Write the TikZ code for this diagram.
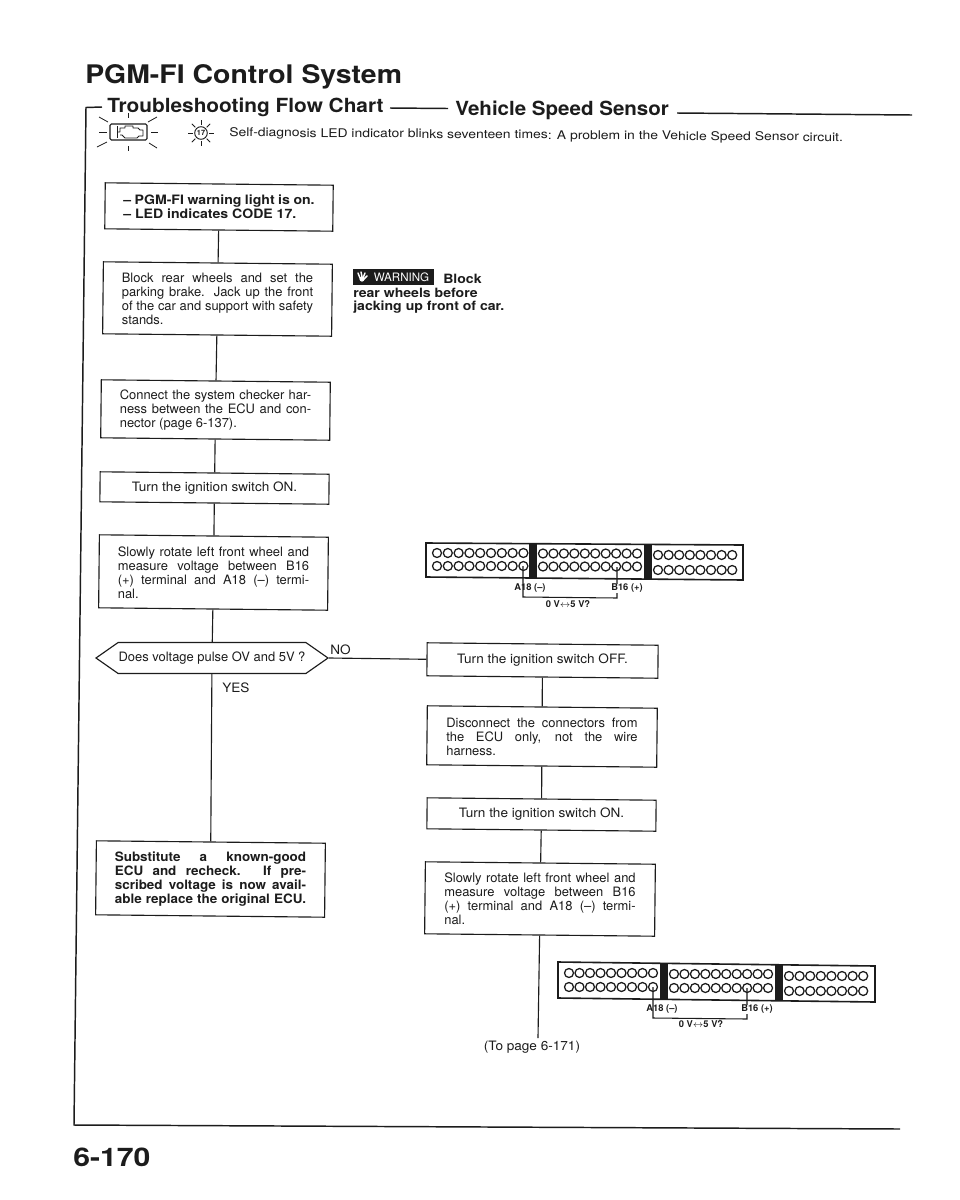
\documentclass[tikz,border=0pt]{standalone}
\usepackage{fontspec}
\usepackage{graphicx}
\setmainfont{TeX Gyre Heros}
\usetikzlibrary{shapes.symbols}
\newdimen\bxw
\bxw=143.5pt
\newcommand{\jl}[1]{\leavevmode\hbox to \bxw{\spaceskip=.26em plus 1fil\relax #1}}
\newcommand{\bt}[1]{\rotatebox{0.6}{\parbox{\bxw}{\raggedright #1}}}
\newcommand{\ot}[1]{\rotatebox{0.6}{#1}}
\definecolor{ink}{HTML}{1C1C1C}
\tikzset{
  px/.style={x=0.75pt,y=-0.75pt},
  flowbox/.style n args={2}{draw=ink,line width=0.85pt,rectangle,inner sep=0pt,rotate=-0.6,
    minimum width=#1*0.75pt,minimum height=#2*0.75pt,text=ink,
    font=\fontsize{9.7}{10.55}\selectfont},
  boldbox/.style={font=\bfseries\fontsize{9.7}{10.55}\selectfont\addfontfeature{FakeStretch=#1}},
  widebox/.style={font=\fontsize{9.7}{10.55}\selectfont\addfontfeature{FakeStretch=1.05}},
  link/.style={draw=ink,line width=0.85pt},
  frameline/.style={draw=ink,line width=1.1pt},
  lbl/.style={text=ink,inner sep=0pt,font=\fontsize{9.7}{10.55}\selectfont\addfontfeature{FakeStretch=1.05}},
  pinlbl/.style={text=ink,inner sep=0.3pt,fill=white,font=\bfseries\fontsize{7}{8}\selectfont},
  pinhole/.style={draw=ink,line width=0.95pt},
  head/.style={text=ink,inner sep=0pt,anchor=base west},
  bigfont/.style={font=\bfseries\fontsize{19.2}{22}\selectfont\addfontfeature{FakeStretch=#1}},
  subfont/.style={font=\bfseries\fontsize{14.6}{17}\selectfont\addfontfeature{FakeStretch=#1}},
  warnfont/.style={font=\bfseries\fontsize{9.6}{10}\selectfont\addfontfeature{FakeStretch=1.1}},
  ray/.style={draw=ink,line width=0.6pt},
}
\begin{document}
\begin{tikzpicture}[px]
\useasboundingbox[fill=white] (0,0) rectangle (960,1200);

% headings
\node[head,bigfont=1.11] (title) at (85,83) {PGM-FI Control System};
\node[head,subfont=1.07] (sub1) at (107,112) {Troubleshooting Flow Chart};
\node[head,subfont=1.055] (sub2) at (455,115) {Vehicle Speed Sensor};
\coordinate (d1a) at (390,108); \coordinate (d1b) at (448,108.5);
\draw[frameline] (d1a) -- (d1b);
\coordinate (d2a) at (677,113); \coordinate (d2b) at (912,115);
\draw[frameline] (d2a) -- (d2b);
\node[head,font=\fontsize{9}{10}\selectfont\addfontfeature{FakeStretch=1.16},rotate=-0.45] (selfd) at (229,136.5) {Self-diagnosis LED indicator blinks seventeen times: A problem in the Vehicle Speed Sensor circuit.};

% outer frame
\coordinate (fa) at (102,107); \coordinate (fb) at (86,107.5);
\coordinate (fc) at (74,1125); \coordinate (fd) at (900,1129);
\draw[frameline] (fa) -- (fb) -- (fc) -- (fd);

% engine icon
\draw[draw=ink,line width=0.8pt,rounded corners=1pt] (110,124) rectangle (147,140);
\draw[draw=ink,line width=0.7pt] (117,126) -- (117,138);
\draw[draw=ink,line width=0.7pt,line join=round] (117,132) -- (120,132) -- (120,128) -- (125,128) -- (125,126) -- (133,126) -- (133,128) -- (138,128) -- (140,130) -- (143,130) -- (143,136) -- (139,136) -- (137,138) -- (125,138) -- (122,135) -- (120,135);
\foreach \xa/\ya/\xb/\yb in {128/113/128/118,128/146/128/151,99/132/107/132,151/132/158/132,99/117/108/122,157/117/148/122,97/147/107/142,157/148/149/143}
  \draw[ray] (\xa,\ya) -- (\xb,\yb);

% LED icon
\draw[draw=ink,line width=0.7pt] (201,133) circle (6.3);
\node[inner sep=0pt,text=ink,font=\bfseries\fontsize{5.5}{6}\selectfont] (ledtxt) at (201,133) {17};
\foreach \a in {0,45,...,315}
  \draw[ray] ({201+8*cos(\a)},{133+8*sin(\a)}) -- ({201+13*cos(\a)},{133+13*sin(\a)});

% warning
\fill[ink] (353,269) rectangle (434,285);
\draw[white,line width=1.1pt,line cap=round] (358,273) -- (360,278);
\draw[white,line width=1.1pt,line cap=round] (361,272) -- (362,277);
\draw[white,line width=1.1pt,line cap=round] (365,273) -- (363,278);
\draw[white,line width=1.1pt,line cap=round] (367,276) -- (364,279);
\fill[white] (362,279) circle (2.6);
\node[inner sep=0pt,anchor=base west,text=white,font=\fontsize{8.7}{9}\selectfont] (wtxt) at (373.5,281.5) {WARNING};
\node[head,warnfont] (w1) at (443,283) {Block};
\node[head,warnfont] (w2) at (353,297) {rear wheels before};
\node[head,warnfont] (w3) at (353,310.5) {jacking up front of car.};

% flow: left column
\node[flowbox={228}{46},boldbox=1.09] (b1) at (219,207) {\bt{-- PGM-FI warning light is on.\\-- LED indicates CODE 17.}};
\node[flowbox={229}{72}] (b2) at (217.5,299) {\bt{\jl{Block rear wheels and set the}\\\jl{parking brake. Jack up the front}\\\jl{of the car and support with safety}\\stands.}};
\node[flowbox={229}{58}] (b3) at (215.5,410) {\bt{\jl{Connect the system checker har-}\\\jl{ness between the ECU and con-}\\nector (page 6-137).}};
\node[flowbox={229}{30},widebox] (b4) at (214.5,488) {\ot{Turn the ignition switch ON.}};
\node[flowbox={229}{73}] (b5) at (213.5,572.5) {\bt{\jl{Slowly rotate left front wheel and}\\\jl{measure voltage between B16}\\\jl{(+) terminal and A18 (--) termi-}\\nal.}};
\node[signal,signal to=west and east,signal pointer angle=70,draw=ink,line width=0.85pt,inner sep=0pt,minimum width=232*0.75pt,minimum height=31*0.75pt,text=ink,font=\fontsize{9.7}{10.55}\selectfont] (q) at (212,658) {Does voltage pulse OV and 5V ?};
\node[flowbox={229}{74},boldbox=1.04] (b6) at (210.5,879) {\bt{\jl{Substitute a known-good}\\\jl{ECU and recheck. If pre-}\\\jl{scribed voltage is now avail-}\\\jl{able replace the original ECU.}}};

\node[lbl,anchor=base west] (no) at (330,654) {NO};
\node[lbl,anchor=base west] (yes) at (222,692) {YES};

% flow: right column
\node[flowbox={231}{33},widebox] (r1) at (542.5,660.5) {\ot{Turn the ignition switch OFF.}};
\node[flowbox={230}{59}] (r2) at (542,736.5) {\bt{\jl{Disconnect the connectors from}\\\jl{the ECU only, not the wire}\\harness.}};
\node[flowbox={229}{31},widebox] (r3) at (541.5,814.5) {\ot{Turn the ignition switch ON.}};
\node[flowbox={230}{72}] (r4) at (540,899) {\bt{\jl{Slowly rotate left front wheel and}\\\jl{measure voltage between B16}\\\jl{(+) terminal and A18 (--) termi-}\\nal.}};
\node[lbl] (topage) at (532,1047) {(To page 6-171)};
\coordinate (tp) at (538,1038);

% connectors
\draw[link] (b1) -- (b2);
\draw[link] (b2) -- (b3);
\draw[link] (b3) -- (b4);
\draw[link] (b4) -- (b5);
\draw[link] (b5) -- (q);
\draw[link] (q) -- (b6);
\draw[link] (q.east) -- (r1.west);
\draw[link] (r1) -- (r2);
\draw[link] (r2) -- (r3);
\draw[link] (r3) -- (r4);
\draw[link] (r4.south) -- (tp);

% upper connector
\draw[draw=ink,line width=1.2pt] (426,543) -- (743,545) -- (743,580) -- (426,577) -- cycle;
\fill[ink] (529,544) rectangle (537,578);
\fill[ink] (644,544.5) rectangle (652,579);
\foreach \i in {0,...,8} {
  \draw[pinhole] ({437+\i*10.8},553) circle (4.5);
  \draw[pinhole] ({437+\i*10.8},566) circle (4.5);
}
\foreach \i in {0,...,9} {
  \draw[pinhole] ({543+\i*10.45},553.5) circle (4.5);
  \draw[pinhole] ({543+\i*10.45},566.5) circle (4.5);
}
\foreach \i in {0,...,7} {
  \draw[pinhole] ({658+\i*10.6},555) circle (4.5);
  \draw[pinhole] ({658+\i*10.6},570) circle (4.5);
}
\draw[draw=ink,line width=0.8pt] (523,566) -- (523,597) -- (617,598) -- (617,567);
\node[pinlbl,fill=none] (ua) at (530,588) {A18 (--)};
\node[pinlbl] (ub) at (627,588.5) {B16 (+)};
\node[pinlbl] (uv) at (568,604) {0 V\(\leftrightarrow\)5 V?};

% lower connector
\draw[draw=ink,line width=1.2pt] (558,962) -- (875,966) -- (875,1002) -- (558,998) -- cycle;
\fill[ink] (660,963.5) rectangle (668,999);
\fill[ink] (775,965) rectangle (783,1001);
\foreach \i in {0,...,8} {
  \draw[pinhole] ({569+\i*10.5},973) circle (4.5);
  \draw[pinhole] ({569+\i*10.5},987) circle (4.5);
}
\foreach \i in {0,...,9} {
  \draw[pinhole] ({674+\i*10.45},974) circle (4.5);
  \draw[pinhole] ({674+\i*10.45},988) circle (4.5);
}
\foreach \i in {0,...,7} {
  \draw[pinhole] ({789+\i*10.6},976) circle (4.5);
  \draw[pinhole] ({789+\i*10.6},991) circle (4.5);
}
\draw[draw=ink,line width=0.8pt] (653,987) -- (653,1018) -- (747,1019) -- (747,988);
\node[pinlbl,fill=none] (la) at (662,1009) {A18 (--)};
\node[pinlbl] (lb) at (757,1009.5) {B16 (+)};
\node[pinlbl] (lv) at (701,1024.5) {0 V\(\leftrightarrow\)5 V?};

% page number
\node[head,bigfont=1.18] (pg) at (73,1166) {6-170};
\end{tikzpicture}
\end{document}
